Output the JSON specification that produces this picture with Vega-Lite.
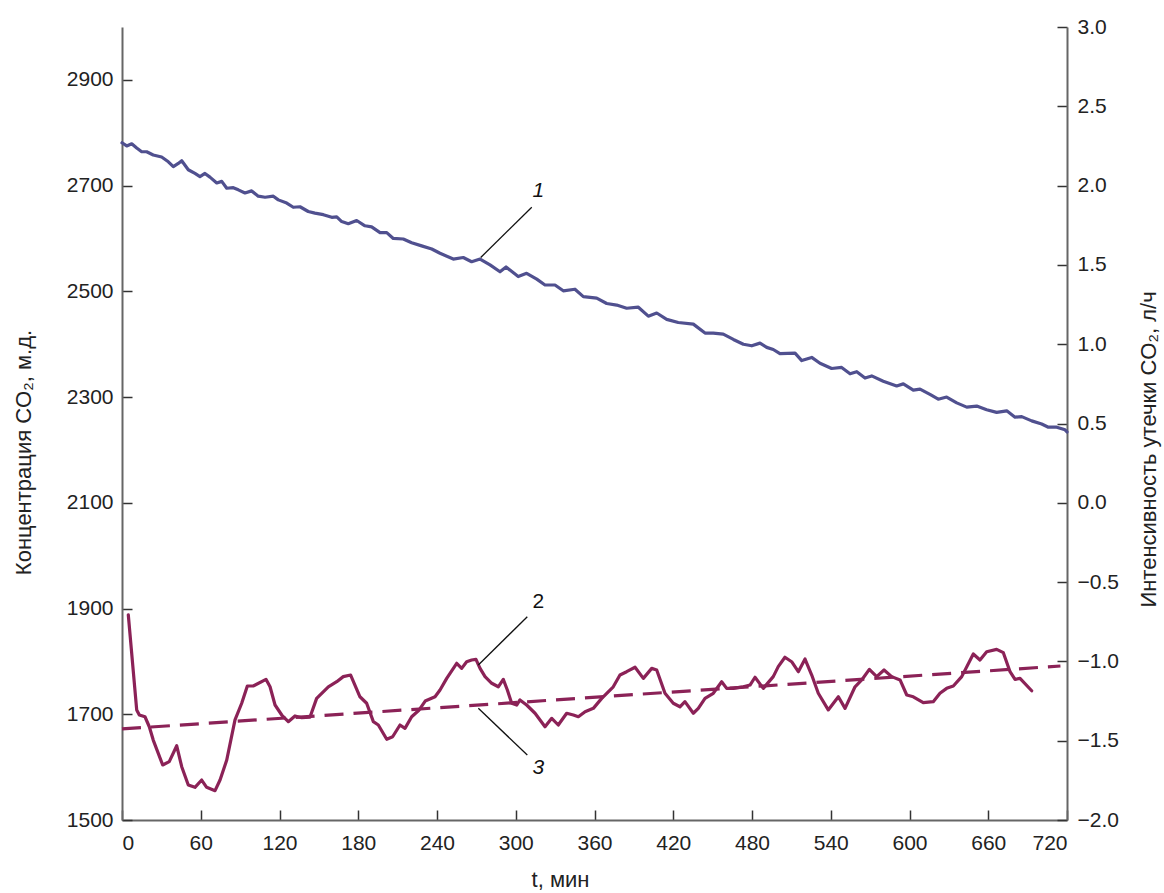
{
  "$schema": "https://vega.github.io/schema/vega-lite/v6.json",
  "width": 945,
  "height": 793,
  "autosize": {"type": "none"},
  "padding": {"left": 122, "top": 27, "right": 97, "bottom": 73},
  "background": "white",
  "config": {
    "view": {"stroke": null},
    "axis": {
      "grid": false,
      "domainColor": "#666666",
      "domainWidth": 2,
      "tickColor": "#333333",
      "tickWidth": 1.5,
      "tickSize": -10,
      "labelFont": "Liberation Sans",
      "labelFontSize": 21,
      "labelColor": "#222222",
      "titleFont": "Liberation Sans",
      "titleFontSize": 22,
      "titleFontWeight": "normal",
      "titleColor": "#222222"
    },
    "line": {"strokeCap": "round", "strokeJoin": "round"}
  },
  "datasets": {
    "conc": [
      {"t":0,"c":2781},{"t":3.6,"c":2775},{"t":7.4,"c":2779},{"t":11.2,"c":2771},{"t":15,"c":2764},{"t":18.8,"c":2764},{"t":23.8,"c":2758},{"t":30.2,"c":2754},{"t":35.3,"c":2745},{"t":39.1,"c":2736},{"t":42.9,"c":2742},{"t":45.5,"c":2747},{"t":50.5,"c":2730},{"t":55.6,"c":2723},{"t":59.4,"c":2717},{"t":63.2,"c":2723},{"t":67,"c":2716},{"t":72.2,"c":2705},{"t":76,"c":2708},{"t":79.8,"c":2695},{"t":84.8,"c":2696},{"t":88.6,"c":2692},{"t":93.7,"c":2686},{"t":98.8,"c":2690},{"t":103.8,"c":2680},{"t":109,"c":2678},{"t":115.3,"c":2680},{"t":119.1,"c":2673},{"t":125.5,"c":2667},{"t":130.5,"c":2659},{"t":135.6,"c":2660},{"t":141.9,"c":2651},{"t":147,"c":2648},{"t":153.4,"c":2645},{"t":159.8,"c":2640},{"t":163.6,"c":2641},{"t":167.4,"c":2632},{"t":172.4,"c":2628},{"t":178.8,"c":2634},{"t":185.1,"c":2624},{"t":190.2,"c":2622},{"t":196.6,"c":2611},{"t":201.7,"c":2611},{"t":206.7,"c":2600},{"t":214.3,"c":2599},{"t":220.7,"c":2592},{"t":228.3,"c":2586},{"t":236,"c":2580},{"t":242.3,"c":2572},{"t":252.4,"c":2561},{"t":260,"c":2564},{"t":266.4,"c":2556},{"t":272.8,"c":2561},{"t":280.4,"c":2550},{"t":288,"c":2537},{"t":292.6,"c":2546},{"t":301.9,"c":2528},{"t":308.3,"c":2534},{"t":316,"c":2523},{"t":322.3,"c":2512},{"t":329.9,"c":2512},{"t":336.2,"c":2501},{"t":345.1,"c":2504},{"t":351.5,"c":2490},{"t":361.7,"c":2487},{"t":369.3,"c":2477},{"t":376.9,"c":2474},{"t":384.5,"c":2468},{"t":393.4,"c":2470},{"t":401,"c":2453},{"t":407.4,"c":2459},{"t":415,"c":2447},{"t":423.8,"c":2441},{"t":435.3,"c":2438},{"t":444.2,"c":2421},{"t":450.5,"c":2421},{"t":458.1,"c":2419},{"t":465.8,"c":2409},{"t":473.4,"c":2400},{"t":479.8,"c":2397},{"t":486.1,"c":2402},{"t":491.2,"c":2394},{"t":496.2,"c":2390},{"t":501.3,"c":2382},{"t":512.8,"c":2383},{"t":517.9,"c":2369},{"t":525.5,"c":2375},{"t":531.8,"c":2364},{"t":540.7,"c":2354},{"t":548.3,"c":2356},{"t":554.7,"c":2344},{"t":559.8,"c":2348},{"t":566.1,"c":2336},{"t":571.2,"c":2340},{"t":580,"c":2330},{"t":590.2,"c":2321},{"t":595.3,"c":2325},{"t":602.9,"c":2313},{"t":608,"c":2315},{"t":615.6,"c":2305},{"t":621.9,"c":2296},{"t":628.3,"c":2300},{"t":636,"c":2289},{"t":643.6,"c":2281},{"t":651.2,"c":2283},{"t":658.8,"c":2276},{"t":666.4,"c":2271},{"t":674.1,"c":2274},{"t":680.4,"c":2262},{"t":685.5,"c":2263},{"t":693.1,"c":2255},{"t":700.7,"c":2249},{"t":705.8,"c":2243},{"t":712.2,"c":2243},{"t":718.5,"c":2238},{"t":720,"c":2234}
    ],
    "leak": [
      {"t":4.8,"v":-0.707},{"t":11.2,"v":-1.306},{"t":13.2,"v":-1.338},{"t":17.5,"v":-1.349},{"t":20.8,"v":-1.412},{"t":23.8,"v":-1.496},{"t":31,"v":-1.653},{"t":36,"v":-1.632},{"t":41.7,"v":-1.532},{"t":45.5,"v":-1.664},{"t":50.5,"v":-1.779},{"t":55.6,"v":-1.794},{"t":60.7,"v":-1.748},{"t":64.5,"v":-1.794},{"t":70.9,"v":-1.815},{"t":74.7,"v":-1.748},{"t":79.8,"v":-1.622},{"t":86.1,"v":-1.369},{"t":91.2,"v":-1.264},{"t":95.5,"v":-1.155},{"t":100,"v":-1.155},{"t":109.7,"v":-1.113},{"t":112.8,"v":-1.16},{"t":116.6,"v":-1.275},{"t":121.7,"v":-1.338},{"t":126.7,"v":-1.38},{"t":131.8,"v":-1.344},{"t":136.9,"v":-1.355},{"t":143.2,"v":-1.352},{"t":148.3,"v":-1.233},{"t":157.2,"v":-1.16},{"t":163.6,"v":-1.128},{"t":168.6,"v":-1.096},{"t":174.2,"v":-1.086},{"t":181.3,"v":-1.223},{"t":186.4,"v":-1.264},{"t":191.5,"v":-1.38},{"t":195.3,"v":-1.401},{"t":201.7,"v":-1.491},{"t":206.2,"v":-1.475},{"t":211.8,"v":-1.401},{"t":215.6,"v":-1.422},{"t":220.7,"v":-1.349},{"t":226,"v":-1.31},{"t":231,"v":-1.25},{"t":238.5,"v":-1.223},{"t":242.3,"v":-1.18},{"t":247.4,"v":-1.107},{"t":255,"v":-1.012},{"t":258.8,"v":-1.044},{"t":262.6,"v":-1.002},{"t":266.4,"v":-0.991},{"t":269.7,"v":-0.987},{"t":272.8,"v":-1.044},{"t":276.6,"v":-1.096},{"t":281.7,"v":-1.138},{"t":286.7,"v":-1.16},{"t":290.5,"v":-1.113},{"t":293.6,"v":-1.18},{"t":296.9,"v":-1.264},{"t":300.7,"v":-1.275},{"t":303.2,"v":-1.243},{"t":308.3,"v":-1.275},{"t":314.7,"v":-1.327},{"t":322.3,"v":-1.412},{"t":327.4,"v":-1.359},{"t":332.4,"v":-1.401},{"t":338.8,"v":-1.327},{"t":343.9,"v":-1.338},{"t":347.7,"v":-1.349},{"t":352.8,"v":-1.317},{"t":359.1,"v":-1.296},{"t":365.5,"v":-1.233},{"t":374.3,"v":-1.16},{"t":379.4,"v":-1.086},{"t":384.5,"v":-1.065},{"t":390.9,"v":-1.037},{"t":397.2,"v":-1.107},{"t":403.6,"v":-1.044},{"t":407.4,"v":-1.054},{"t":413.7,"v":-1.201},{"t":420,"v":-1.264},{"t":425.1,"v":-1.286},{"t":428.9,"v":-1.254},{"t":435.3,"v":-1.327},{"t":439.1,"v":-1.296},{"t":444.2,"v":-1.233},{"t":450.5,"v":-1.201},{"t":456.9,"v":-1.128},{"t":460.7,"v":-1.17},{"t":465.8,"v":-1.17},{"t":473.4,"v":-1.16},{"t":478.5,"v":-1.149},{"t":482.3,"v":-1.1},{"t":488.6,"v":-1.17},{"t":496.2,"v":-1.096},{"t":500,"v":-1.033},{"t":505.1,"v":-0.974},{"t":510.2,"v":-1.002},{"t":515.3,"v":-1.065},{"t":520.4,"v":-0.985},{"t":525.5,"v":-1.086},{"t":530.5,"v":-1.201},{"t":538.1,"v":-1.306},{"t":545.8,"v":-1.223},{"t":550.9,"v":-1.296},{"t":558.5,"v":-1.16},{"t":563.6,"v":-1.117},{"t":569.4,"v":-1.05},{"t":575,"v":-1.096},{"t":580.6,"v":-1.054},{"t":586.4,"v":-1.096},{"t":592.8,"v":-1.117},{"t":597.9,"v":-1.212},{"t":602.9,"v":-1.223},{"t":610.5,"v":-1.26},{"t":618.1,"v":-1.254},{"t":623.2,"v":-1.201},{"t":628.3,"v":-1.17},{"t":633.4,"v":-1.155},{"t":639.8,"v":-1.096},{"t":648.6,"v":-0.953},{"t":653.7,"v":-0.991},{"t":658.8,"v":-0.939},{"t":666.4,"v":-0.924},{"t":671.5,"v":-0.945},{"t":676.6,"v":-1.065},{"t":680.4,"v":-1.113},{"t":684.2,"v":-1.107},{"t":693.1,"v":-1.185}
    ],
    "trend": [{"t":0,"v":-1.426},{"t":715,"v":-1.029}],
    "leadL": [{"t":312.2,"c":2659,"t2":273.3,"c2":2564}],
    "labL": [{"t":317.2,"c":2689,"label":"1"}],
    "leadR": [{"t":308.8,"v":-0.718,"t2":271.5,"v2":-1.023},{"t":271.5,"v":-1.296,"t2":308.8,"v2":-1.59}],
    "labR2": [{"t":317.2,"v":-0.624,"label":"2"}],
    "labR3": [{"t":317.2,"v":-1.674,"label":"3"}]
  },
  "encoding": {
    "x": {
      "field": "t",
      "type": "quantitative",
      "scale": {"domain": [0, 720], "nice": false, "zero": false},
      "axis": {
        "values": [0,60,120,180,240,300,360,420,480,540,600,660,720],
        "title": "t, мин",
        "labelPadding": 22,
        "titleX": 438,
        "titleY": 59,
        "titleAlign": "center",
        "titleBaseline": "middle"
      }
    }
  },
  "layer": [
    {
      "layer": [
        {
          "data": {"name": "conc"},
          "mark": {"type": "line", "color": "#50508f", "strokeWidth": 3.2},
          "encoding": {
            "y": {
              "field": "c",
              "type": "quantitative",
              "scale": {"domain": [1500, 3000], "nice": false, "zero": false},
              "axis": {
                "orient": "left",
                "values": [1500,1700,1900,2100,2300,2500,2700,2900],
                "format": "d",
                "title": "Концентрация CO₂, м.д.",
                "labelPadding": 19,
                "titleAngle": -90,
                "titleX": -99,
                "titleY": 425,
                "titleAlign": "center",
                "titleBaseline": "middle"
              }
            }
          }
        },
        {
          "data": {"name": "leadL"},
          "mark": {"type": "rule", "color": "#111111", "strokeWidth": 1.3},
          "encoding": {
            "x": {"field": "t", "type": "quantitative"},
            "x2": {"field": "t2"},
            "y": {"field": "c", "type": "quantitative"},
            "y2": {"field": "c2"}
          }
        },
        {
          "data": {"name": "labL"},
          "mark": {"type": "text", "font": "Liberation Sans", "fontSize": 21, "fontStyle": "italic", "color": "#111111", "align": "center", "baseline": "middle"},
          "encoding": {
            "y": {"field": "c", "type": "quantitative"},
            "text": {"field": "label"}
          }
        }
      ]
    },
    {
      "layer": [
        {
          "data": {"name": "leak"},
          "mark": {"type": "line", "color": "#8b2257", "strokeWidth": 3.2},
          "encoding": {
            "y": {
              "field": "v",
              "type": "quantitative",
              "scale": {"domain": [-2, 3], "nice": false, "zero": false},
              "axis": {
                "orient": "right",
                "values": [-2,-1.5,-1,-0.5,0,0.5,1,1.5,2,2.5,3],
                "format": ".1f",
                "title": "Интенсивность утечки CO₂, л/ч",
                "labelPadding": 20,
                "titleAngle": -90,
                "titleX": 81,
                "titleY": 422,
                "titleAlign": "center",
                "titleBaseline": "middle"
              }
            }
          }
        },
        {
          "data": {"name": "trend"},
          "mark": {"type": "line", "color": "#8b2257", "strokeWidth": 3.2, "strokeDash": [19, 10], "strokeCap": "butt"},
          "encoding": {
            "y": {"field": "v", "type": "quantitative"}
          }
        },
        {
          "data": {"name": "leadR"},
          "mark": {"type": "rule", "color": "#111111", "strokeWidth": 1.3},
          "encoding": {
            "x": {"field": "t", "type": "quantitative"},
            "x2": {"field": "t2"},
            "y": {"field": "v", "type": "quantitative"},
            "y2": {"field": "v2"}
          }
        },
        {
          "data": {"name": "labR2"},
          "mark": {"type": "text", "font": "Liberation Sans", "fontSize": 21, "color": "#111111", "align": "center", "baseline": "middle"},
          "encoding": {
            "y": {"field": "v", "type": "quantitative"},
            "text": {"field": "label"}
          }
        },
        {
          "data": {"name": "labR3"},
          "mark": {"type": "text", "font": "Liberation Sans", "fontSize": 21, "fontStyle": "italic", "color": "#111111", "align": "center", "baseline": "middle"},
          "encoding": {
            "y": {"field": "v", "type": "quantitative"},
            "text": {"field": "label"}
          }
        }
      ]
    }
  ],
  "resolve": {"scale": {"y": "independent"}}
}
